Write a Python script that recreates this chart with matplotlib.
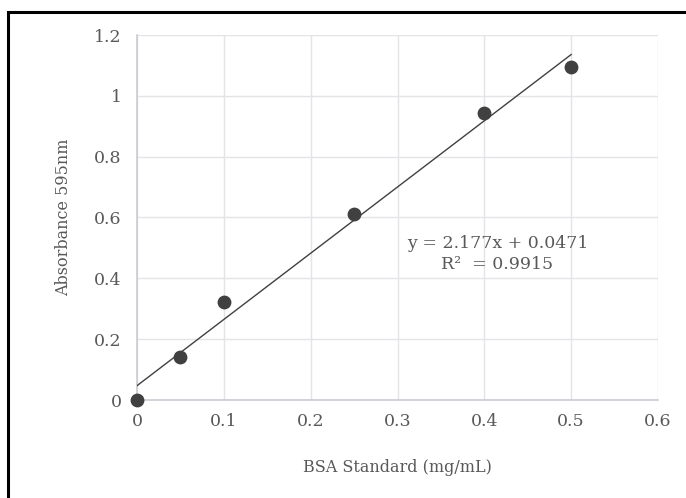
import numpy as np
import matplotlib
matplotlib.use("Agg")
import matplotlib.pyplot as plt
from matplotlib.patches import Rectangle

# BSA standard curve
conc = [0, 0.05, 0.1, 0.25, 0.4, 0.5]
absorb = [0, 0.141, 0.322, 0.610, 0.945, 1.095]
xticks = [0, 0.1, 0.2, 0.3, 0.4, 0.5, 0.6]
yticks = [0, 0.2, 0.4, 0.6, 0.8, 1, 1.2]
xtick_labels = ["0", "0.1", "0.2", "0.3", "0.4", "0.5", "0.6"]
ytick_labels = ["0", "0.2", "0.4", "0.6", "0.8", "1", "1.2"]

plt.rcParams["font.family"] = ["DejaVu Serif"]
txt = "#595959"

fig = plt.figure(figsize=(6.86, 4.98), dpi=100)
W, H = 686, 498
ax = fig.add_axes([137 / W, 1 - 400 / H, (658 - 137) / W, (400 - 35) / H])

# trendline (least squares)
m, b = np.polyfit(conc, absorb, 1)
xl = np.array([0, max(conc)])
ax.plot(xl, m * xl + b, color="#404040", lw=1.0, zorder=3)

ax.scatter(conc, absorb, s=80, color="#404040", zorder=4, clip_on=False)

ax.set_xlim(0, 0.6)
ax.set_ylim(0, 1.2)
ax.set_xticks(xticks)
ax.set_xticklabels(xtick_labels)
ax.set_yticks(yticks)
ax.set_yticklabels(ytick_labels)
ax.tick_params(length=0, labelsize=12.5, colors=txt)
ax.tick_params(axis="y", pad=11)
ax.tick_params(axis="x", pad=9)
ax.grid(True, color="#e3e3e8", lw=1.0)
ax.set_axisbelow(True)
for s in ["top", "right"]:
    ax.spines[s].set_visible(False)
for s in ["left", "bottom"]:
    ax.spines[s].set_color("#c8ccd2")
    ax.spines[s].set_linewidth(1.2)

ax.set_xlabel("BSA Standard (mg/mL)", fontsize=11.5, color=txt, labelpad=21)
ax.set_ylabel("Absorbance 595nm", fontsize=11.5, color=txt, labelpad=16)

ax.text(0.415, 0.513, "y = 2.177x + 0.0471", fontsize=12.5, color=txt, ha="center", va="center")
ax.text(0.415, 0.447, "R\u00b2  = 0.9915", fontsize=12.5, color=txt, ha="center", va="center")

# black frame around the chart area
fig.patches.append(Rectangle((8 / W, -0.05), 1.0, 1 - 12 / H + 0.05, transform=fig.transFigure,
                             fill=False, edgecolor="black", lw=2.2))

fig.savefig("out.png", dpi=100)
